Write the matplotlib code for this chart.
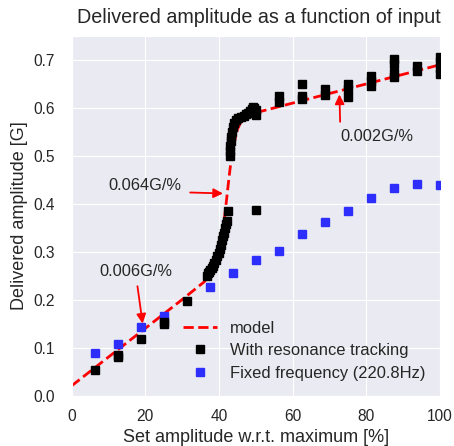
import matplotlib
matplotlib.use("Agg")
import matplotlib.pyplot as plt
import seaborn as sns

sns.set_style("darkgrid")
plt.rcParams['font.family'] = ['Liberation Sans', 'DejaVu Sans']

# ---- data ----
track_x = [6.25, 12.5, 12.5, 18.75, 25, 25, 31.25,
           36.8, 37.0, 37.3, 37.6, 38.0, 38.4, 38.8, 39.2, 39.6, 39.9, 40.2, 40.5,
           40.8, 41.0, 41.3, 41.6, 41.9, 42.2, 42.5, 50.0,
           43.0, 43.0, 43.1, 43.2, 43.3, 43.5, 43.8, 44.2, 44.7, 45.3, 46.0, 46.7,
           47.3, 47.9, 48.4, 48.9, 49.3, 49.6, 50.0, 50.0,
           56.25, 56.25, 62.5, 62.5, 62.5, 68.75, 68.75, 75, 75, 75,
           81.25, 81.25, 81.25, 87.5, 87.5, 87.5, 87.5, 93.75, 93.75,
           100, 100, 100, 100]
track_y = [0.054, 0.080, 0.084, 0.117, 0.150, 0.154, 0.198,
           0.250, 0.255, 0.258, 0.262, 0.265, 0.270, 0.276, 0.283, 0.290, 0.298, 0.306, 0.315,
           0.324, 0.332, 0.340, 0.349, 0.357, 0.365, 0.385, 0.387,
           0.500, 0.510, 0.520, 0.530, 0.540, 0.550, 0.560, 0.568, 0.574, 0.578, 0.581, 0.584,
           0.587, 0.590, 0.594, 0.598, 0.602, 0.600, 0.596, 0.585,
           0.613, 0.625, 0.650, 0.625, 0.618, 0.639, 0.627, 0.650, 0.640, 0.623,
           0.666, 0.656, 0.646, 0.702, 0.692, 0.672, 0.665, 0.688, 0.676,
           0.707, 0.695, 0.683, 0.671]

fixed_x = [6.25, 12.5, 18.75, 25, 37.5, 43.75, 50, 56.25, 62.5, 68.75, 75,
           81.25, 87.5, 93.75, 100]
fixed_y = [0.088, 0.107, 0.143, 0.165, 0.226, 0.256, 0.283, 0.302, 0.336, 0.362,
           0.385, 0.413, 0.433, 0.442, 0.440]

model_x = [0, 10, 20, 30, 36, 38, 39, 40, 40.5, 41, 41.5, 42, 42.5, 43, 43.5,
           44, 45, 46, 48, 50, 55, 60, 70, 80, 90, 100]
model_y = [0.020, 0.080, 0.140, 0.200, 0.237, 0.255, 0.271, 0.297, 0.316, 0.341,
           0.370, 0.403, 0.438, 0.471, 0.500, 0.523, 0.555, 0.571, 0.584, 0.590,
           0.600, 0.610, 0.630, 0.650, 0.670, 0.690]

labels = ["model", "With resonance tracking", "Fixed frequency (220.8Hz)"]
title = "Delivered amplitude as a function of input"
xlabel = "Set amplitude w.r.t. maximum [%]"
ylabel = "Delivered amplitude [G]"

annotations = [  # text, text pos, arrow start, arrow tip
    ("0.064G/%", (10.0, 0.428), (32.2, 0.4235), (41.1, 0.4215)),
    ("0.006G/%", (7.5, 0.249), (17.9, 0.228), (19.3, 0.150)),
    ("0.002G/%", (73.1, 0.530), (72.9, 0.571), (72.7, 0.628)),
]

# ---- plot ----
fig = plt.figure(figsize=(4.54, 4.46), dpi=100)
ax = fig.add_axes([71.5/454, 1-395.5/446, (440-71.5)/454, (395.5-36)/446])

ax.plot(model_x, model_y, '--', color='red', lw=2, label=labels[0], zorder=2)
ax.plot(track_x, track_y, 's', color='black', ms=6, ls='none', label=labels[1], zorder=4)
ax.plot(fixed_x, fixed_y, 's', color='#2e2efc', ms=6, ls='none', label=labels[2], zorder=3)

txtc = '#262626'
for txt, tpos, start, tip in annotations:
    ax.text(tpos[0], tpos[1], txt, fontsize=11.8, color=txtc, ha='left', va='baseline')
    ax.annotate('', xy=tip, xytext=start,
                arrowprops=dict(arrowstyle='-|>', color='red', lw=1.3,
                                mutation_scale=14, shrinkA=0, shrinkB=0))

ax.set_xlim(0, 100)
ax.set_ylim(0, 0.75)
ax.set_xticks([0, 20, 40, 60, 80, 100])
ax.set_yticks([0.0, 0.1, 0.2, 0.3, 0.4, 0.5, 0.6, 0.7])
ax.tick_params(labelsize=11.2, colors=txtc)
ax.tick_params(axis='x', pad=6)
ax.tick_params(axis='y', pad=8.4)
ax.set_xlabel(xlabel, fontsize=13, color=txtc, labelpad=4)
ax.set_ylabel(ylabel, fontsize=13, color=txtc, labelpad=3.6)
ax.set_title(title, fontsize=14.2, color=txtc, pad=9, x=0.5095)

leg = ax.legend(loc='lower right', frameon=False, fontsize=11.9, numpoints=1,
                handlelength=2.0, labelspacing=0.45)
for t in leg.get_texts():
    t.set_color(txtc)

fig.savefig("out.png", dpi=100)
